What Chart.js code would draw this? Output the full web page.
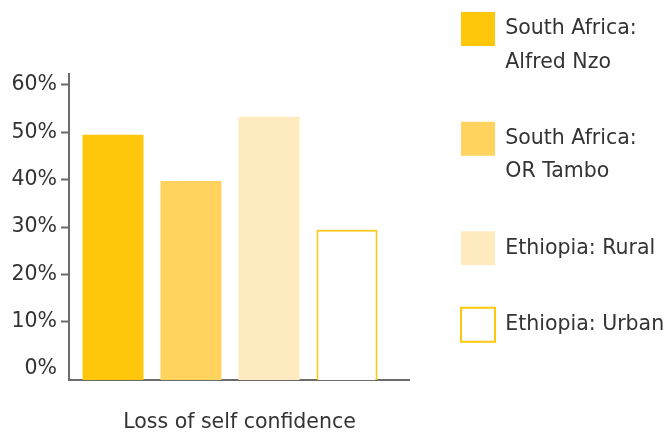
<!DOCTYPE html>
<html>
<head>
<meta charset="utf-8">
<script src="https://cdn.jsdelivr.net/npm/chart.js@4"></script>
<style>
  html, body { margin: 0; padding: 0; background: #fff; }
  #wrap { width: 672px; height: 432px; }
</style>
</head>
<body>
<div id="wrap"><canvas id="myChart" width="672" height="432"></canvas></div>
<script>
// data
var categories = ['Loss of self confidence'];
var seriesNames = ['South Africa: Alfred Nzo', 'South Africa: OR Tambo', 'Ethiopia: Rural', 'Ethiopia: Urban'];
var legendLines = [
    ['South Africa:', 'Alfred Nzo', ''],
    ['South Africa:', 'OR Tambo', ''],
    ['Ethiopia: Rural', ''],
    ['Ethiopia: Urban']
];
var alfredNzo = [49.5];
var orTambo = [39.7];
var ethiopiaRural = [53.3];
var ethiopiaUrban = [29.4];
var yTicks = [0, 10, 20, 30, 40, 50, 60];

var yMin = -2.3;
var yMax = 62.3;
var axisColor = '#6b6b6b';
var textColor = '#333333';
var fontFamily = '"DejaVu Sans", sans-serif';
var fontSize = 20.5;
var axisOverhang = 19;

// the x axis line runs a little past the last bar group
var axisExtend = {
    id: 'axisExtend',
    afterDraw: function(chart) {
        var ctx = chart.ctx, area = chart.chartArea;
        ctx.save();
        ctx.strokeStyle = axisColor;
        ctx.lineWidth = 2;
        ctx.beginPath();
        ctx.moveTo(area.right, Math.round(area.bottom));
        ctx.lineTo(area.right + axisOverhang, Math.round(area.bottom));
        ctx.stroke();
        ctx.restore();
    }
};

var ctx = document.getElementById('myChart').getContext('2d');
var chart = new Chart(ctx, {
    type: 'bar',
    data: {
        labels: categories,
        datasets: [
            { label: seriesNames[0], data: alfredNzo, backgroundColor: '#FFC70B', borderWidth: 0, base: yMin },
            { label: seriesNames[1], data: orTambo, backgroundColor: '#FFD35E', borderWidth: 0, base: yMin },
            { label: seriesNames[2], data: ethiopiaRural, backgroundColor: '#FFEBBF', borderWidth: 0, base: yMin },
            { label: seriesNames[3], data: ethiopiaUrban, backgroundColor: '#FFFFFF', borderColor: '#FFC70B', borderWidth: 2, base: yMin }
        ]
    },
    options: {
        responsive: false,
        animation: false,
        datasets: {
            bar: { categoryPercentage: 0.969, barPercentage: 0.782 }
        },
        layout: { padding: { top: 2, right: 0, bottom: 0, left: 0 } },
        scales: {
            x: {
                grid: { display: false, drawTicks: false },
                border: { display: true, color: axisColor, width: 2 },
                ticks: {
                    color: textColor,
                    font: { family: fontFamily, size: fontSize },
                    padding: 30,
                    labelOffset: 9.5,
                    maxRotation: 0
                },
                afterFit: function(s) { s.height = 52; }
            },
            xTop: {
                type: 'category',
                position: 'top',
                display: true,
                grid: { display: false, drawTicks: false },
                border: { display: false },
                ticks: { display: false },
                afterFit: function(s) { s.height = 72; }
            },
            y: {
                min: yMin,
                max: yMax,
                grid: {
                    drawOnChartArea: false,
                    drawTicks: true,
                    tickLength: 8,
                    tickWidth: 2,
                    tickColor: function(c) { return c.tick && c.tick.value === 0 ? 'rgba(0,0,0,0)' : axisColor; }
                },
                border: { display: true, color: axisColor, width: 2 },
                afterBuildTicks: function(s) {
                    s.ticks = yTicks.map(function(v) { return { value: v }; });
                },
                ticks: {
                    color: textColor,
                    font: { family: fontFamily, size: fontSize },
                    padding: 4,
                    callback: function(v) { return v + '%'; }
                },
                afterFit: function(s) { s.width = 69; }
            },
            yRight: {
                type: 'linear',
                position: 'right',
                display: true,
                grid: { display: false, drawTicks: false },
                border: { display: false },
                ticks: { display: false },
                afterFit: function(s) { s.width = 60; }
            }
        },
        plugins: {
            tooltip: { enabled: false },
            legend: {
                position: 'right',
                align: 'start',
                maxWidth: 221,
                labels: {
                    boxWidth: 34,
                    boxHeight: 34,
                    padding: 10,
                    color: textColor,
                    font: { family: fontFamily, size: fontSize, lineHeight: 1.62 },
                    generateLabels: function(chart) {
                        var items = Chart.defaults.plugins.legend.labels.generateLabels(chart);
                        return items.map(function(item, i) {
                            item.text = legendLines[i];
                            return item;
                        });
                    }
                }
            }
        }
    },
    plugins: [axisExtend]
});
</script>
</body>
</html>
